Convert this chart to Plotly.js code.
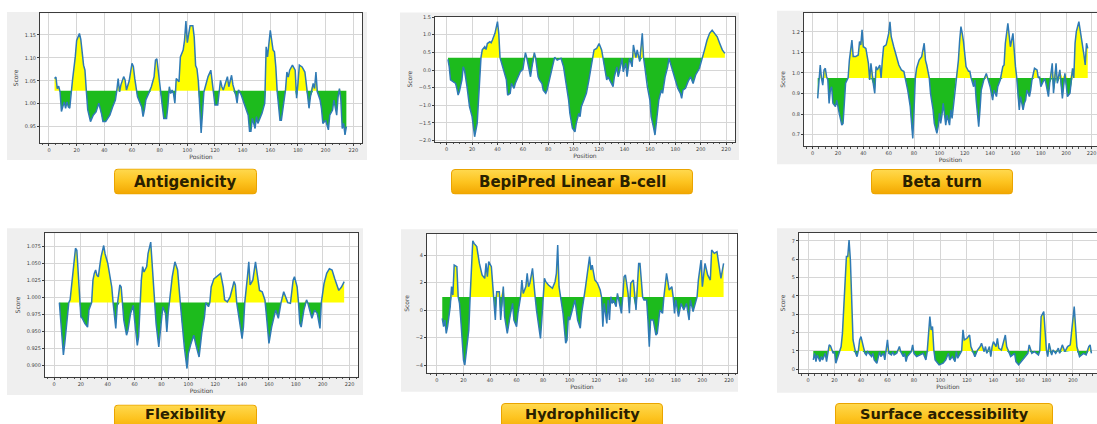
<!DOCTYPE html>
<html><head><meta charset="utf-8">
<script src="https://cdn.plot.ly/plotly-3.0.1.min.js"></script>
<style>html,body{margin:0;padding:0;background:#fff;overflow:hidden}#chart{width:1097px;height:424px}</style>
</head><body><div id="chart"></div>
<script>
// ---------------- DATA ----------------
const antigenicityThreshold = 1.028;
const antigenicityPos = [4,5,6,7,8,9,11,12,13,14,15,16,17,19,20,22,23,25,26,27,28,30,32,34,36,38,39,41,44,46,48,49,50,51,52,54,55,56,58,60,61,62,63,64,67,68,69,70,72,74,76,77,78,79,80,81,82,83,85,86,87,88,89,90,91,92,94,95,97,98,99,100,101,102,104,105,106,107,108,109,110,111,112,113,115,117,118,119,120,122,123,124,125,126,129,130,132,133,135,136,137,139,141,144,145,146,147,149,150,151,154,156,157,158,160,162,163,164,165,167,168,169,171,172,173,174,176,178,179,180,181,183,185,186,187,188,189,191,192,193,194,196,197,198,200,202,203,205,206,208,209,210,211,212,213,214,215];
const antigenicityScore = [1.055,1.058,1.033,1.038,1.026,0.983,1.004,0.990,1.004,0.993,0.990,1.028,1.051,1.102,1.138,1.153,1.140,1.084,1.073,1.028,0.987,0.961,0.975,0.982,1.001,0.978,0.961,0.961,0.975,0.993,1.008,1.028,1.055,1.026,1.041,1.059,1.052,1.030,1.050,1.088,1.081,1.055,1.030,1.015,0.993,0.972,0.987,1.008,1.022,1.037,1.059,1.095,1.098,1.069,1.037,1.015,0.993,0.968,0.968,0.997,1.037,1.022,1.030,1.022,1.001,1.055,1.048,1.102,1.117,1.138,1.180,1.133,1.155,1.170,1.170,1.145,1.083,1.076,1.048,0.990,0.936,0.980,1.026,1.037,1.059,1.073,1.051,1.026,0.997,0.997,1.030,1.051,1.037,1.030,1.059,1.037,1.062,1.041,1.019,1.001,1.030,1.019,1.001,0.975,0.940,0.940,0.968,0.946,0.972,0.957,0.979,1.001,1.124,1.102,1.160,1.117,1.113,1.080,1.026,0.964,0.964,0.986,1.030,1.069,1.058,1.073,1.084,1.073,1.012,1.044,1.084,1.080,1.069,1.044,1.015,0.990,1.015,1.044,1.033,1.069,1.026,1.008,0.990,0.957,0.964,0.943,0.975,0.986,1.008,0.975,1.015,1.033,1.008,0.946,0.957,0.932,0.950];

const bepipredThreshold = 0.35;
const bepipredPos = [1,2,3,5,7,8,9,10,12,13,14,16,17,18,20,21,22,24,25,26,27,28,30,31,32,34,35,36,37,38,40,41,42,44,45,47,48,50,51,53,54,56,58,60,61,62,63,66,67,69,70,71,72,73,75,76,78,79,81,83,85,87,90,92,94,96,97,98,99,101,102,104,105,106,108,110,112,114,115,116,118,120,122,123,124,126,127,129,131,132,134,135,136,138,139,141,142,144,146,147,149,150,151,152,154,155,156,158,160,161,163,164,165,167,169,170,172,174,175,177,178,180,182,184,185,186,188,190,192,194,196,199,201,203,205,207,209,211,213,215,217,219];
const bepipredScore = [0.30,0.09,-0.28,-0.33,-0.38,-0.52,-0.71,-0.61,-0.28,0.09,0.0,-0.47,-0.85,-1.04,-1.32,-1.60,-1.89,-1.51,-0.85,-0.38,0.35,0.57,0.66,0.58,0.75,0.80,0.77,0.85,0.94,1.04,1.37,1.04,0.35,0.09,-0.05,-0.28,-0.71,-0.66,-0.38,-0.52,-0.38,-0.19,-0.05,0.02,0.35,0.49,0.35,-0.19,0.05,0.49,0.35,0.09,-0.19,-0.28,-0.38,-0.57,-0.66,-0.57,-0.28,0.09,0.36,0.28,0.33,0.09,-0.38,-0.85,-1.23,-1.51,-1.65,-1.75,-1.51,-1.23,-1.32,-1.04,-0.85,-0.66,-0.28,0.09,0.35,0.57,0.61,0.75,0.57,0.35,0.09,-0.28,-0.19,-0.33,-0.47,-0.19,0.09,-0.19,-0.05,0.33,-0.05,0.19,-0.19,0.33,0.09,0.71,0.35,0.57,0.35,0.24,1.04,0.35,0.09,-0.47,-0.85,-1.32,-1.65,-1.84,-1.51,-0.85,-0.57,-0.66,-0.19,0.09,0.33,0.09,-0.09,-0.28,-0.52,-0.66,-0.80,-0.57,-0.52,-0.33,-0.19,-0.38,-0.14,0.05,0.35,0.57,0.85,1.04,1.13,1.04,0.94,0.75,0.57,0.47];

const betaTurnThreshold = 0.976;
const betaTurnPos = [4,5,6,7,8,9,10,11,12,13,14,15,16,18,19,21,23,24,25,26,28,29,31,32,34,36,37,38,39,40,42,44,45,46,48,49,50,51,53,54,55,56,58,60,61,62,64,66,68,70,72,73,74,75,77,78,79,80,81,82,84,86,88,89,90,92,93,95,96,98,99,100,101,102,103,105,106,108,109,110,111,113,115,116,117,118,119,121,123,124,125,127,128,129,131,132,133,135,137,138,140,142,143,145,146,148,150,151,152,154,155,156,158,159,160,161,162,163,164,166,167,168,169,171,172,173,175,177,178,179,180,182,183,184,186,187,189,190,192,193,195,197,199,201,203,205,206,207,208,210,212,214,215,216,217];
const betaTurnScore = [0.876,0.966,1.039,0.974,0.941,1.015,1.023,0.982,0.966,0.852,0.917,0.933,0.852,0.836,0.868,0.803,0.746,0.754,0.885,0.950,0.976,1.063,1.161,1.080,1.080,1.088,1.153,1.137,1.210,1.128,1.120,1.047,0.966,1.047,0.941,0.901,1.031,1.015,1.039,0.976,1.063,1.128,1.137,1.193,1.250,1.177,1.128,1.088,1.039,1.015,1.007,0.976,0.950,0.917,0.836,0.738,0.681,0.820,0.976,1.023,1.063,1.080,1.145,1.063,1.039,0.976,0.901,0.820,0.754,0.706,0.738,0.803,0.754,0.795,0.852,0.746,0.795,0.746,0.820,0.779,0.836,0.976,1.063,1.161,1.226,1.193,1.153,1.031,1.008,1.008,0.976,0.933,0.966,0.868,0.738,0.820,0.917,0.966,0.998,0.976,0.933,0.868,0.917,0.885,0.933,0.966,1.031,1.039,1.145,1.242,1.177,1.128,1.193,1.096,1.031,0.976,0.868,0.820,0.885,0.820,0.852,0.868,0.917,0.885,0.917,0.966,1.023,1.015,0.976,0.982,0.933,0.958,0.974,0.950,0.885,0.950,1.047,0.901,1.047,0.950,1.015,0.876,0.998,0.885,0.901,1.023,0.976,1.145,1.202,1.250,1.177,1.088,1.039,1.145,1.120];

const flexibilityThreshold = 0.992;
const flexibilityPos = [4,5,6,7,8,9,10,11,12,13,14,16,17,18,19,20,21,23,25,26,28,29,30,31,32,33,34,35,37,38,40,42,43,44,46,47,49,50,51,52,54,55,57,59,60,62,63,64,65,66,67,69,70,72,73,74,75,76,78,79,81,83,84,85,86,88,90,92,94,95,97,99,100,102,104,106,108,110,112,113,115,116,117,119,121,124,126,127,129,131,133,134,135,136,138,140,141,142,144,145,146,148,150,151,153,155,157,158,160,162,165,167,168,169,171,173,174,176,178,179,181,182,183,184,186,188,189,191,192,194,196,198,199,201,203,205,207,209,210,212,214,216];
const flexibilityScore = [0.992,0.966,0.937,0.915,0.932,0.956,0.981,0.992,0.996,1.015,1.040,1.072,1.069,1.030,0.992,0.971,0.969,0.961,0.956,0.981,0.992,1.025,1.035,1.040,1.032,1.030,1.045,1.059,1.076,1.064,1.050,1.030,1.015,0.992,0.954,0.986,1.018,1.015,0.992,0.966,0.944,0.951,0.976,0.988,0.966,0.929,0.942,0.992,1.025,1.045,1.037,1.045,1.064,1.081,1.054,1.020,0.992,0.961,0.927,0.951,0.986,0.976,0.949,0.976,0.992,1.030,1.052,1.040,0.992,0.966,0.927,0.895,0.917,0.932,0.944,0.927,0.912,0.947,0.971,0.992,0.986,0.992,1.015,1.027,1.030,1.035,1.015,0.996,0.993,1.000,1.015,1.023,1.018,0.992,0.966,0.939,0.956,0.992,1.030,1.052,1.018,1.025,1.052,1.040,1.010,1.008,0.996,0.976,0.932,0.956,0.981,0.969,0.981,0.992,1.008,0.996,0.992,0.991,1.025,1.030,1.015,0.992,0.961,0.956,0.981,0.996,0.991,0.976,0.969,0.981,0.976,0.954,0.992,1.020,1.035,1.042,1.040,1.027,1.020,1.010,1.015,1.023];

const hydrophilicityThreshold = 0.95;
const hydrophilicityPos = [4,5,6,7,8,9,10,11,12,13,15,16,17,18,19,20,21,22,24,25,26,27,28,30,32,34,36,37,38,39,41,42,43,44,45,47,48,50,51,53,55,57,58,60,61,63,64,65,67,68,69,70,72,73,74,75,77,78,79,80,81,82,84,87,89,90,91,92,93,95,97,98,99,100,102,104,106,108,109,111,112,114,115,116,117,119,121,123,124,125,126,128,129,130,131,132,133,135,136,137,139,140,141,142,144,145,146,148,150,151,152,153,155,156,158,159,160,161,163,165,166,168,170,171,173,175,177,178,179,180,182,184,186,188,190,191,193,196,197,199,200,202,204,206,207,209,211,214,216];
const hydrophilicityScore = [-0.61,-1.21,-0.73,-1.70,-1.21,-0.48,0.24,1.70,1.09,3.27,3.15,0.95,0.48,-0.73,-2.18,-3.64,-4.00,-3.15,-1.45,0.95,2.91,5.04,4.85,4.61,3.39,2.55,2.30,3.39,2.42,3.52,3.15,1.70,0.95,-0.73,1.33,1.33,-0.73,1.70,-0.48,-1.70,-0.48,0.48,-0.73,-1.21,-0.24,0.95,2.18,1.21,1.70,2.67,1.70,1.94,3.03,1.70,0.95,0.0,-1.21,-2.06,-0.73,0.95,2.30,2.06,1.82,1.58,2.06,2.67,4.73,1.70,0.95,-0.24,-2.42,-2.18,-0.48,-0.73,0.0,0.73,-0.73,-1.33,-0.24,0.95,1.70,3.15,3.88,2.91,3.27,2.18,1.94,1.45,0.95,-1.21,0.48,-0.97,0.73,-0.73,0.97,0.48,0.73,0.24,1.21,0.73,-0.24,0.95,2.42,2.55,1.21,-0.24,1.94,2.18,0.0,1.70,3.39,3.39,0.95,0.73,0.73,-0.73,-2.67,-0.73,-0.73,-1.82,-1.70,0.0,-0.24,0.95,2.67,1.45,1.70,0.95,-0.24,0.73,-0.48,0.48,0.0,0.48,-0.73,0.73,-0.12,0.95,2.18,3.64,1.70,3.39,2.55,2.18,4.36,4.12,4.24,2.30,3.39];

const surfaceThreshold = 1.0;
const surfacePos = [4,5,6,7,9,10,11,13,14,15,16,17,18,19,20,21,23,24,25,26,27,29,30,31,32,33,34,36,37,38,39,40,41,43,44,45,47,48,49,50,52,53,54,55,57,58,59,60,61,63,64,65,67,68,69,70,72,73,74,75,77,78,79,80,82,84,87,88,89,90,91,92,93,94,95,96,98,99,102,104,106,107,109,111,112,113,115,116,117,118,120,122,123,125,126,128,130,131,133,134,135,137,138,139,140,142,143,144,146,148,149,150,152,153,156,157,159,161,164,166,167,169,171,174,175,176,178,179,180,181,182,184,185,187,189,190,192,194,196,198,199,201,202,203,205,208,210,212,213,214];
const surfaceScore = [0.51,0.87,0.42,0.78,0.42,0.69,0.51,0.87,0.42,1.0,1.33,1.27,1.0,0.87,0.96,0.33,0.78,1.0,1.24,1.96,3.6,6.15,6.15,7.05,5.96,3.6,1.6,0.87,0.69,1.0,1.6,1.78,1.42,0.87,0.78,0.96,0.78,0.69,0.87,0.51,0.33,0.69,0.96,0.69,0.87,0.51,0.96,1.6,0.87,0.78,0.96,0.78,0.87,1.05,1.24,0.96,0.69,0.87,0.42,0.69,0.87,0.96,1.33,0.87,0.69,0.78,0.87,0.69,0.51,0.96,1.96,2.87,2.15,2.33,1.05,0.51,0.33,0.24,0.33,0.51,0.87,0.51,0.69,0.42,0.96,0.6,0.87,1.0,2.15,1.6,1.69,1.87,1.24,0.87,0.69,1.05,1.24,1.42,0.96,1.24,0.87,1.24,0.69,1.24,1.51,1.24,1.69,1.15,1.05,1.6,1.87,1.24,0.87,0.69,0.87,0.42,0.24,0.42,0.69,0.87,1.33,0.87,0.96,0.78,1.0,2.87,3.15,2.15,1.05,0.69,1.42,0.78,1.05,0.87,1.15,0.87,1.33,0.96,1.24,1.33,1.96,3.42,2.33,1.24,0.69,0.87,0.78,1.24,1.33,0.87];

const labels = ['Antigenicity','BepiPred Linear B-cell','Beta turn','Flexibility','Hydrophilicity','Surface accessibility'];

// ---------------- LAYOUT ----------------
const W = 1097, H = 424;
const panels = [
  {pos:antigenicityPos, val:antigenicityScore, thr:antigenicityThreshold, bg:[7,12,367,160], plot:[40,13.3,362,142.7], xr:[-6.5,226.3], yr:[0.915,1.197], dtick:0.05, fmt:'.2f', box:[114,168.5,257,194.5], ty:181.5, fs:15},
  {pos:bepipredPos, val:bepipredScore, thr:bepipredThreshold, bg:[400,12.5,739,160], plot:[435,16.7,735,141.7], xr:[-9.2,227], yr:[-2.03,1.51], dtick:0.5, fmt:'.1f', box:[451,169,693,194.5], ty:181.5, fs:15},
  {pos:betaTurnPos, val:betaTurnScore, thr:betaTurnThreshold, bg:[777,10.7,1097,164.3], plot:[804,12.7,1097,146], xr:[-6.8,224.3], yr:[0.644,1.294], dtick:0.1, fmt:'.1f', box:[871,169,1013,194.5], ty:181.5, fs:15},
  {pos:flexibilityPos, val:flexibilityScore, thr:flexibilityThreshold, bg:[7,228.3,363,395], plot:[45,233.3,358,376.7], xr:[-6.7,226.3], yr:[0.883,1.094], dtick:0.025, fmt:'.3f', box:[114,404.5,257,432], ty:414.2, fs:14.5},
  {pos:hydrophilicityPos, val:hydrophilicityScore, thr:hydrophilicityThreshold, bg:[401,229.3,738,391.7], plot:[427,234,737,372.7], xr:[-7.5,226.1], yr:[-4.56,5.53], dtick:2, fmt:'d', box:[501,403,663,432], ty:414.2, fs:14.5},
  {pos:surfacePos, val:surfaceScore, thr:surfaceThreshold, bg:[777,228.3,1097,392.7], plot:[799,232.7,1097,373.3], xr:[-6.8,218.2], yr:[-0.22,7.45], dtick:1, fmt:'d', box:[835,403,1053,432], ty:414.2, fs:14.5}
];

const LINE = '#2f7ab5', YEL = '#ffff00', GRN = '#1dbb1d';
const axisFont = {family:'DejaVu Sans', size:5, color:'#444'};
const titleFont = {family:'DejaVu Sans', size:6, color:'#444'};

const boxSvg = (w,h) => 'data:image/svg+xml;utf8,' + encodeURIComponent(
  `<svg xmlns="http://www.w3.org/2000/svg" width="${w}" height="${h}" viewBox="0 0 ${w} ${h}" preserveAspectRatio="none">`+
  `<defs><linearGradient id="g" x1="0" y1="0" x2="0" y2="1"><stop offset="0" stop-color="#ffd94f"/><stop offset="0.5" stop-color="#fdc420"/><stop offset="1" stop-color="#f2a600"/></linearGradient></defs>`+
  `<rect x="0.5" y="0.5" width="${w-1}" height="${h-1}" rx="3.5" ry="3.5" fill="url(#g)" stroke="#eaa400" stroke-width="1"/></svg>`);

const data = [], shapes = [], images = [], annotations = [];
const layout = {
  width: W, height: H, margin:{l:0,r:0,t:0,b:0},
  paper_bgcolor:'#ffffff', plot_bgcolor:'#ffffff', showlegend:false,
  font:{family:'DejaVu Sans'}
};

panels.forEach((p, i) => {
  const n = i + 1, sfx = n === 1 ? '' : String(n);
  const xa = 'x' + sfx, ya = 'y' + sfx;
  const base = p.pos.map(() => p.thr);
  const upper = p.val.map(v => Math.max(v, p.thr));
  const lower = p.val.map(v => Math.min(v, p.thr));
  const common = {xaxis:xa, yaxis:ya, mode:'lines', hoverinfo:'skip', showlegend:false};
  data.push({...common, x:p.pos, y:base, line:{width:0, color:YEL}});
  data.push({...common, x:p.pos, y:upper, fill:'tonexty', fillcolor:YEL, line:{width:0, color:YEL}});
  data.push({...common, x:p.pos, y:base, line:{width:0, color:GRN}});
  data.push({...common, x:p.pos, y:lower, fill:'tonexty', fillcolor:GRN, line:{width:0, color:GRN}});
  data.push({...common, x:p.pos, y:p.val, line:{width:1.5, color:LINE}});

  layout['xaxis' + sfx] = {
    domain:[p.plot[0]/W, p.plot[2]/W], range:p.xr, anchor:ya,
    tick0:0, dtick:20, showgrid:true, gridcolor:'#d6d6d6', gridwidth:1, zeroline:false,
    showline:true, mirror:true, linecolor:'#3c3c3c', linewidth:1,
    ticks:'outside', ticklen:2, tickcolor:'#3c3c3c', tickfont:axisFont,
    minor:{ticks:'outside', ticklen:1.5, dtick:5, tick0:0, tickcolor:'#555', showgrid:false},
    title:{text:'Position', font:titleFont, standoff:1}, fixedrange:true
  };
  layout['yaxis' + sfx] = {
    domain:[1 - p.plot[3]/H, 1 - p.plot[1]/H], range:p.yr, anchor:xa,
    dtick:p.dtick, tickformat:p.fmt, showgrid:true, gridcolor:'#d6d6d6', gridwidth:1, zeroline:false,
    showline:true, mirror:true, linecolor:'#3c3c3c', linewidth:1,
    ticks:'outside', ticklen:2, tickcolor:'#3c3c3c', tickfont:axisFont,
    title:{text:'Score', font:titleFont, standoff:5}, fixedrange:true
  };

  shapes.push({type:'rect', xref:'paper', yref:'paper', layer:'below',
    x0:p.bg[0]/W, x1:p.bg[2]/W, y0:1 - p.bg[3]/H, y1:1 - p.bg[1]/H,
    fillcolor:'#efefef', line:{width:0}});
  shapes.push({type:'rect', xref:xa + ' domain', yref:ya + ' domain', layer:'below',
    x0:0, x1:1, y0:0, y1:1, fillcolor:'#ffffff', line:{width:0}});

  const bw = p.box[2] - p.box[0], bh = p.box[3] - p.box[1];
  images.push({source:boxSvg(bw, bh), xref:'paper', yref:'paper',
    x:p.box[0]/W, y:1 - p.box[1]/H, sizex:bw/W, sizey:bh/H,
    xanchor:'left', yanchor:'top', sizing:'stretch', layer:'above'});
  annotations.push({text:'<b>' + labels[i] + '</b>', xref:'paper', yref:'paper',
    x:(p.box[0] + p.box[2]) / 2 / W, y:1 - p.ty/H, xanchor:'center', yanchor:'middle',
    showarrow:false, font:{family:'DejaVu Sans', size:p.fs, color:'#2a2000'}});
});

layout.shapes = shapes; layout.images = images; layout.annotations = annotations;
Plotly.newPlot('chart', data, layout, {displayModeBar:false, staticPlot:true});
</script></body></html>
